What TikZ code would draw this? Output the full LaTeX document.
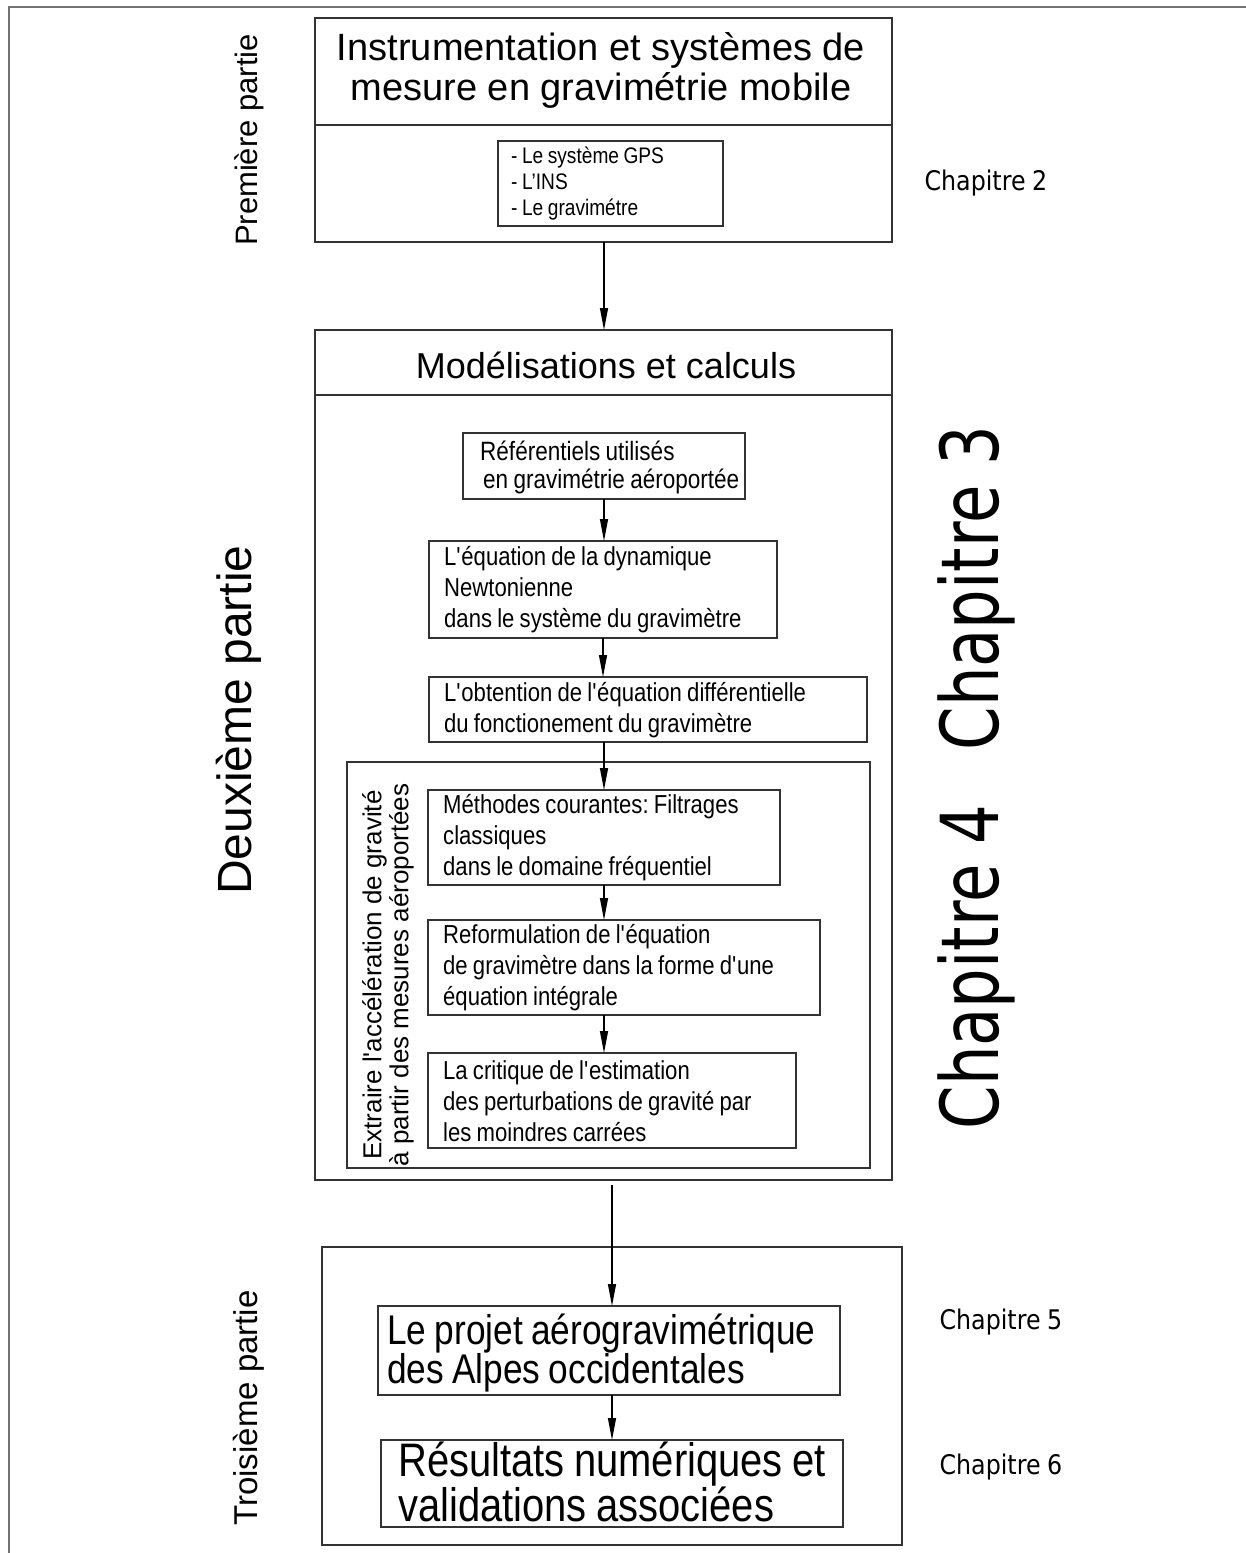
\documentclass[tikz,border=0pt]{standalone}
\usepackage{fontspec}
\setmainfont{Liberation Sans}
\newfontfamily\narrowfont{Liberation Sans}[FakeStretch=0.85,WordSpace=0.85]
\newfontfamily\chapfont{DejaVu Sans}
\newfontfamily\chapnarrow{DejaVu Sans}[FakeStretch=0.88,WordSpace=0.88]
\usetikzlibrary{arrows.meta,calc}
\newcommand{\sq}{\textquotesingle}
\frenchspacing
\tikzset{
  frameline/.style={draw=black!80, line width=1.2pt},
  boxnode/.style={frameline, rectangle, inner sep=0pt, outer sep=0pt},
  boxtext/.style={anchor=west, inner sep=0pt, align=left, font=\narrowfont\fontsize{26}{31}\selectfont},
  flow/.style={draw=black, line width=1.2pt, -{Triangle[length=22pt,width=8pt]}},
  partlabel/.style={rotate=90, anchor=base},
  chapsmall/.style={font=\chapnarrow\fontsize{27}{30}\selectfont},
}
\newcommand{\mybox}[5]{% name, x1,y1,x2,y2
  \node[boxnode, minimum width={(#4)-(#2)}, minimum height={(#5)-(#3)}] (#1) at ({((#2)+(#4))/2},{((#3)+(#5))/2}) {};}
\begin{document}
\begin{tikzpicture}[x=1pt,y=-1pt]
\useasboundingbox (0,0) rectangle (1246,1553);
% outer frame (open at right and bottom)
\draw[draw=black!55, line width=2.5pt] (9,1553) -- (9,7) -- (1246,7);

% ---------- Part 1 ----------
\node[partlabel, font=\fontsize{31}{36}\selectfont] (p1) at (257,140) {Première partie};
\mybox{b1}{315}{18}{892}{242}
\draw[frameline] (315,125) -- (892,125);
\node[align=center, font=\fontsize{38}{40}\selectfont] (t1) at (601,70) {Instrumentation et systèmes de\\mesure en gravimétrie mobile};
\mybox{gps}{498}{141}{723}{226}
\node[boxtext, font=\narrowfont\fontsize{22.5}{26}\selectfont] (gpst) at (511,184)
  {- Le système GPS\\- L’INS\\- Le gravimétre};
\node[chapsmall, anchor=west] (c2) at (921,183) {Chapitre 2};

% ---------- Part 2 ----------
\node[partlabel, font=\fontsize{48}{54}\selectfont] (p2) at (251,720) {Deuxième partie};
\mybox{b2}{315}{330}{892}{1180}
\draw[frameline] (315,395) -- (892,395);
\node[font=\fontsize{36}{40}\selectfont] (t2) at (606,365) {Modélisations et calculs};

\mybox{ref}{463}{433}{745}{499}
\node[boxtext, font=\narrowfont\fontsize{26.5}{28}\selectfont] (reft) at (480,467)
  {Référentiels utilisés\\\hspace*{3pt}en gravimétrie aéroportée};
\mybox{newt}{429}{541}{777}{638}
\node[boxtext] (newtt) at (444,590)
  {L\sq équation de la dynamique\\Newtonienne\\dans le système du gravimètre};
\mybox{obt}{429}{677}{867}{742}
\node[boxtext] (obtt) at (444,710)
  {L\sq obtention de l\sq équation différentielle\\du fonctionement du gravimètre};

\mybox{inner}{347}{762}{870}{1168}
\node[rotate=90, align=center, font=\fontsize{26}{27}\selectfont] (ext) at (388,975)
  {Extraire l\sq accélération de gravité\\à partir des mesures aéroportées};
\mybox{meth}{428}{790}{780}{885}
\node[boxtext] (metht) at (443,838)
  {Méthodes courantes: Filtrages\\classiques\\dans le domaine fréquentiel};
\mybox{reform}{428}{920}{820}{1015}
\node[boxtext] (reformt) at (443,968)
  {Reformulation de l\sq équation\\de gravimètre dans la forme d\sq une\\équation intégrale};
\mybox{crit}{428}{1053}{796}{1148}
\node[boxtext] (critt) at (443,1101)
  {La critique de l\sq estimation\\des perturbations de gravité par\\les moindres carrées};

\node[partlabel, font=\chapfont\fontsize{80}{90}\selectfont] (c3) at (998,588) {\scalebox{0.78}[1]{Chapitre 3}};
\node[partlabel, font=\chapfont\fontsize{80}{90}\selectfont] (c4) at (998,967) {\scalebox{0.78}[1]{Chapitre 4}};

% ---------- Part 3 ----------
\node[partlabel, font=\fontsize{33}{38}\selectfont] (p3) at (257,1408) {Troisième partie};
\mybox{b3}{322}{1247}{902}{1545}
\mybox{proj}{378}{1306}{840}{1395}
\node[boxtext, font=\narrowfont\fontsize{41.5}{39}\selectfont] (projt) at (387,1353)
  {Le projet aérogravimétrique\\des Alpes occidentales};
\mybox{res}{381}{1440}{843}{1527}
\node[boxtext, font=\narrowfont\fontsize{47}{43}\selectfont] (rest) at (398,1482)
  {Résultats numériques et\\validations associées};
\node[chapsmall, anchor=west] (c5) at (936,1322) {Chapitre 5};
\node[chapsmall, anchor=west] (c6) at (936,1467) {Chapitre 6};

% ---------- connectors ----------
\coordinate (a1s) at (604,242);
\coordinate (a5s) at (612,1185);
\draw[flow] (a1s) -- (a1s |- b2.north);
\draw[flow] (ref.south) -- (ref.south |- newt.north);
\draw[flow] (newt.south) -- (newt.south |- obt.north);
\draw[flow] (obt.south -| meth.north) -- (meth.north);
\draw[flow] (meth.south) -- (meth.south |- reform.north);
\draw[flow] (meth.south |- reform.south) -- (meth.south |- crit.north);
\draw[flow] (a5s) -- (a5s |- proj.north);
\draw[flow] (a5s |- proj.south) -- (a5s |- res.north);
\end{tikzpicture}
\end{document}
